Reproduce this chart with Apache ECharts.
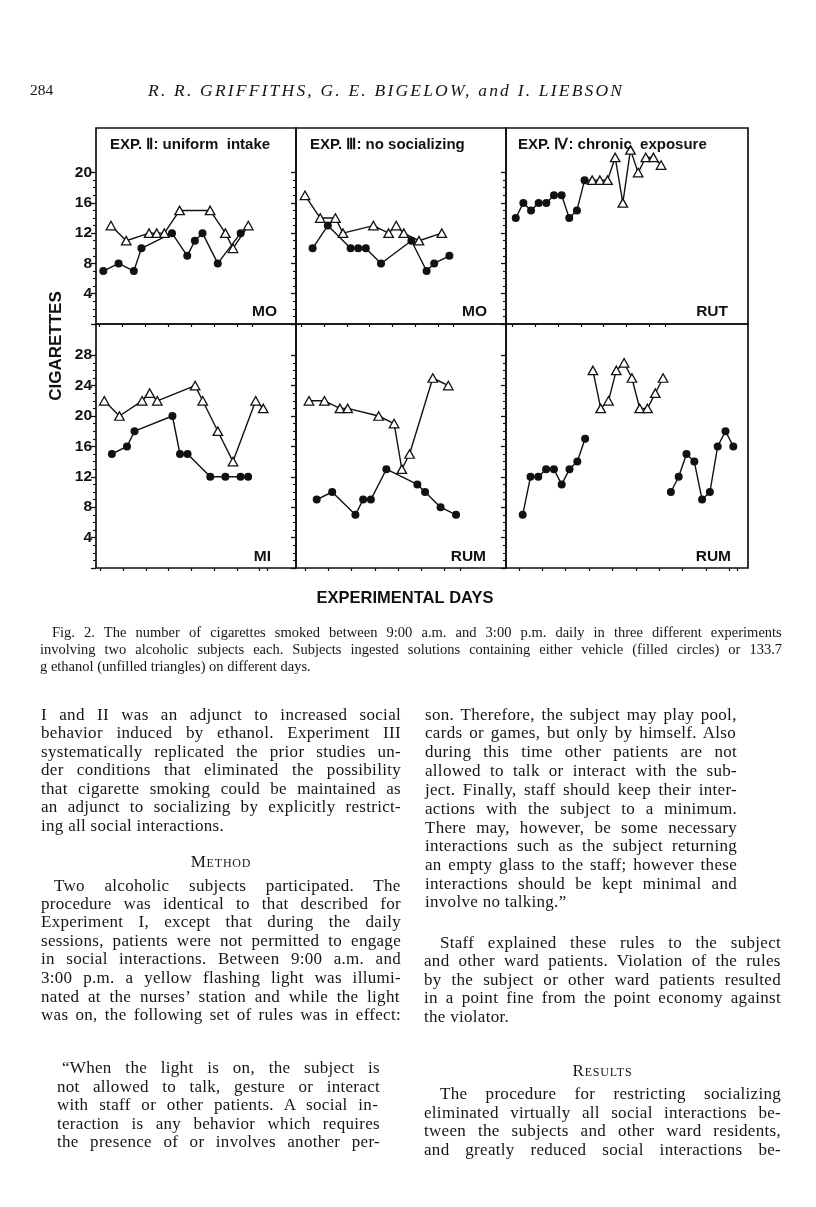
<!DOCTYPE html>
<html><head><meta charset="utf-8">
<script src="https://cdn.jsdelivr.net/npm/echarts@6/dist/echarts.min.js"></script>
<style>
html,body{margin:0;padding:0;background:#fff;}
#page{position:relative;width:816px;height:1207px;overflow:hidden;background:#fff;}
#chart{position:absolute;left:0;top:0;width:816px;height:1207px;}
.t{position:absolute;white-space:pre;font-family:"Liberation Serif","Times New Roman",serif;color:#151515;}
</style></head>
<body><div id="page"><div id="chart"></div></div>
<script>
// ---------------- DATA (cigarettes per day; null = no session of that kind) ----------------
const panelTitles = ['EXP. Ⅱ: uniform  intake', 'EXP. Ⅲ: no socializing', 'EXP. Ⅳ: chronic  exposure'];
const subjectLabels = ['MO', 'MO', 'RUT', 'MI', 'RUM', 'RUM'];
const yTickMaxTop = 20, yTickMaxBottom = 28, yTickStep = 4;

const moExp2Vehicle = [7,null,8,null,7,10,null,null,null,12,null,9,11,12,null,8,null,null,12,null];
const moExp2Ethanol = [null,13,null,11,null,null,12,12,12,null,15,null,null,null,15,null,12,10,null,13];
const moExp3Vehicle = [null,10,null,13,null,null,10,10,10,null,8,null,null,null,11,null,7,8,null,9];
const moExp3Ethanol = [17,null,14,null,14,12,null,null,null,13,null,12,13,12,null,11,null,null,12,null];
const rutExp4Vehicle = [14,16,15,16,16,17,17,14,15,19,null,null,null,null,null,null,null,null,null,null];
const rutExp4Ethanol = [null,null,null,null,null,null,null,null,null,null,19,19,19,22,16,23,20,22,22,21];
const miExp2Vehicle = [null,15,null,16,18,null,null,null,null,20,15,15,null,null,12,null,12,null,12,12,null,null];
const miExp2Ethanol = [22,null,20,null,null,22,23,22,null,null,null,null,24,22,null,18,null,14,null,null,22,21];
const rumExp3Vehicle = [null,9,null,10,null,null,7,9,9,null,13,null,null,null,11,10,null,8,null,7];
const rumExp3Ethanol = [22,null,22,null,21,21,null,null,null,20,null,19,13,15,null,null,25,null,24,null];
const rumExp4Vehicle = [7,12,12,13,13,11,13,14,17,null,null,null,null,null,null,null,null,null,null,10,12,15,14,9,10,16,18,16];
const rumExp4Ethanol = [null,null,null,null,null,null,null,null,null,26,21,22,26,27,25,21,21,23,25,null,null,null,null,null,null,null,null,null];

// ---------------- LAYOUT ----------------
const frameX = [96, 296, 506, 748];
const rowY = [[128, 324], [324, 568]];
const pxPerUnit = [7.57, 7.6];
const panels = [
  {v: moExp2Vehicle,  e: moExp2Ethanol,  row:0, col:0, start:99.5,  dw:7.63, connect:true},
  {v: moExp3Vehicle,  e: moExp3Ethanol,  row:0, col:1, start:301.2, dw:7.6,  connect:true},
  {v: rutExp4Vehicle, e: rutExp4Ethanol, row:0, col:2, start:511.9, dw:7.65, connect:true, joined:true},
  {v: miExp2Vehicle,  e: miExp2Ethanol,  row:1, col:0, start:100.5, dw:7.57, connect:true},
  {v: rumExp3Vehicle, e: rumExp3Ethanol, row:1, col:1, start:305.1, dw:7.74, connect:true},
  {v: rumExp4Vehicle, e: rumExp4Ethanol, row:1, col:2, start:518.8, dw:7.8,  connect:false}
];

const INK = '#111';
const SANS = '"Liberation Sans", Arial, Helvetica, sans-serif';
const circleStyle = {color: INK};
const triStyle = {color: '#fff', borderColor: INK, borderWidth: 1.3};
const CIRCLE_SIZE = 8, TRI_SIZE = [9.5, 8.5];

const grids = [], xAxes = [], yAxes = [], series = [];
panels.forEach((p, i) => {
  const fl = frameX[p.col], fr = frameX[p.col + 1];
  const [ft, fb] = rowY[p.row];
  const tickMax = p.row === 0 ? yTickMaxTop : yTickMaxBottom;
  const n = p.v.length;
  grids.push({left: fl, top: ft, width: fr - fl, height: fb - ft, show: true,
    borderColor: INK, borderWidth: 1.7, backgroundColor: 'transparent'});
  xAxes.push({gridIndex: 2*i, type: 'value', show: false, min: 0, max: 1});
  yAxes.push({gridIndex: 2*i, type: 'value', show: false, min: 0, max: 1});
  const h = tickMax * pxPerUnit[p.row];
  grids.push({left: p.start, top: fb - h, width: n * p.dw, height: h, show: false});
  xAxes.push({gridIndex: 2*i+1, type: 'category', boundaryGap: true,
    data: p.v.map((_, k) => String(k + 1)),
    axisLine: {show: false}, axisLabel: {show: false}, splitLine: {show: false},
    axisTick: {show: true, length: 3, lineStyle: {color: INK, width: 1.2}}});
  yAxes.push({gridIndex: 2*i+1, type: 'value', min: 0, max: tickMax, interval: yTickStep,
    position: 'left', offset: p.start - fl,
    axisLine: {show: false}, splitLine: {show: false},
    axisTick: {show: true, length: 5, lineStyle: {color: INK, width: 1.3}},
    minorTick: {show: true, splitNumber: 4, length: 3, lineStyle: {color: INK, width: 1.1}},
    axisLabel: {show: p.col === 0, margin: 4, color: INK, fontWeight: 'bold', fontSize: 15.5,
      fontFamily: SANS, formatter: v => v === 0 ? '' : String(v)}});
  const base = {type: 'line', xAxisIndex: 2*i+1, yAxisIndex: 2*i+1, showSymbol: true,
    showAllSymbol: true, clip: false, animation: false, silent: true,
    lineStyle: {color: INK, width: 1.4}, emphasis: {disabled: true}};
  if (p.joined) {
    const merged = p.v.map((val, k) => val != null
      ? {value: val, symbol: 'circle', symbolSize: CIRCLE_SIZE, itemStyle: circleStyle}
      : (p.e[k] != null ? {value: p.e[k], symbol: 'triangle', symbolSize: TRI_SIZE, itemStyle: triStyle} : null));
    series.push(Object.assign({}, base, {data: merged, connectNulls: true, z: 3}));
  } else {
    series.push(Object.assign({}, base, {data: p.v, connectNulls: p.connect, symbol: 'circle',
      symbolSize: CIRCLE_SIZE, itemStyle: circleStyle, z: 3}));
    series.push(Object.assign({}, base, {data: p.e, connectNulls: p.connect, symbol: 'triangle',
      symbolSize: TRI_SIZE, itemStyle: triStyle, z: 4}));
  }
});

const txt = (s, x, y, font, align, extra) => Object.assign({type: 'text', x, y, silent: true, z: 10,
  style: {text: s, fill: INK, font, textAlign: align || 'left', textVerticalAlign: 'middle'}}, extra || {});
const graphics = [];
const titleX = [110, 310, 518];
panelTitles.forEach((t, i) => graphics.push(txt(t, titleX[i], 145, 'bold 15px ' + SANS)));
const subjX = [277, 487, 728, 271, 486, 731];
subjectLabels.forEach((s, i) => graphics.push(txt(s, subjX[i], i < 3 ? 312 : 557, 'bold 15.5px ' + SANS, 'right')));
graphics.push(txt('CIGARETTES', 56, 346, 'bold 17px ' + SANS, 'center', {rotation: Math.PI / 2}));
graphics.push(txt('EXPERIMENTAL DAYS', 405, 598, 'bold 16.5px ' + SANS, 'center'));

const chart = echarts.init(document.getElementById('chart'), null, {renderer: 'canvas'});
chart.setOption({animation: false, grid: grids, xAxis: xAxes, yAxis: yAxes, series, graphic: graphics});

// ---------------- PAGE TEXT ----------------
const page = document.getElementById('page');
const mctx = document.createElement('canvas').getContext('2d');
function addLine(s, x, yc, width, size, o) {
  o = o || {};
  const ls = o.ls || 0;
  const d = document.createElement('div');
  d.className = 't';
  const font = (o.italic ? 'italic ' : '') + size + 'px "Liberation Serif"';
  d.style.font = font;
  d.style.lineHeight = (size * 1.2) + 'px';
  d.style.left = x + 'px';
  d.style.top = (yc - size * 0.62) + 'px';
  d.textContent = s;
  mctx.font = font;
  const w = mctx.measureText(s).width;
  if (width && o.letter) {
    d.style.letterSpacing = ((width - w) / (s.length - 1)) + 'px';
  } else {
    if (ls) d.style.letterSpacing = ls + 'px';
    if (width) {
      const nsp = (s.match(/ /g) || []).length;
      if (nsp) d.style.wordSpacing = ((width - w - ls * s.length) / nsp) + 'px';
    }
  }
  page.appendChild(d);
}
function addCentered(s, left, width, yc, size) {
  const d = document.createElement('div');
  d.className = 't';
  d.style.font = size + 'px "Liberation Serif"';
  d.style.fontVariant = 'small-caps';
  d.style.letterSpacing = '0.8px';
  d.style.lineHeight = (size * 1.2) + 'px';
  d.style.left = left + 'px'; d.style.width = width + 'px'; d.style.textAlign = 'center';
  d.style.top = (yc - size * 0.62) + 'px';
  d.textContent = s;
  page.appendChild(d);
}
addLine('284', 30, 91, 0, 15.5);
addLine('R. R. GRIFFITHS, G. E. BIGELOW, and I. LIEBSON', 148, 91, 474, 17.5, {italic: true, letter: true});

const CS = 14.5;
const caption = [
  ['Fig. 2. The number of cigarettes smoked between 9:00 a.m. and 3:00 p.m. daily in three different experiments', 52, 633, 730],
  ['involving two alcoholic subjects each. Subjects ingested solutions containing either vehicle (filled circles) or 133.7', 40, 650, 742],
  ['g ethanol (unfilled triangles) on different days.', 40, 667, 0]
];
caption.forEach(c => addLine(c[0], c[1], c[2], c[3], CS));

const BS = 17, BLS = 0.3;
const L0 = 41, LW = 360, R0 = 424, RW = 357;
const leftCol = [
  ['I and II was an adjunct to increased social', L0, 716, LW],
  ['behavior induced by ethanol. Experiment III', L0, 734, LW],
  ['systematically replicated the prior studies un-', L0, 753, LW],
  ['der conditions that eliminated the possibility', L0, 771, LW],
  ['that cigarette smoking could be maintained as', L0, 790, LW],
  ['an adjunct to socializing by explicitly restrict-', L0, 808, LW],
  ['ing all social interactions.', L0, 827, 0],
  ['Two alcoholic subjects participated. The', L0 + 13, 887, LW - 13],
  ['procedure was identical to that described for', L0, 905, LW],
  ['Experiment I, except that during the daily', L0, 923, LW],
  ['sessions, patients were not permitted to engage', L0, 942, LW],
  ['in social interactions. Between 9:00 a.m. and', L0, 960, LW],
  ['3:00 p.m. a yellow flashing light was illumi-', L0, 979, LW],
  ['nated at the nurses\u2019 station and while the light', L0, 998, LW],
  ['was on, the following set of rules was in effect:', L0, 1016, LW],
  ['\u201CWhen the light is on, the subject is', 62, 1069, 318],
  ['not allowed to talk, gesture or interact', 57, 1088, 323],
  ['with staff or other patients. A social in-', 57, 1106, 323],
  ['teraction is any behavior which requires', 57, 1125, 323],
  ['the presence of or involves another per-', 57, 1143, 323]
];
const rightCol = [
  ['son. Therefore, the subject may play pool,', 425, 716, 312],
  ['cards or games, but only by himself. Also', 425, 734, 312],
  ['during this time other patients are not', 425, 753, 312],
  ['allowed to talk or interact with the sub-', 425, 772, 312],
  ['ject. Finally, staff should keep their inter-', 425, 791, 312],
  ['actions with the subject to a minimum.', 425, 810, 312],
  ['There may, however, be some necessary', 425, 829, 312],
  ['interactions such as the subject returning', 425, 847, 312],
  ['an empty glass to the staff; however these', 425, 866, 312],
  ['interactions should be kept minimal and', 425, 885, 312],
  ['involve no talking.\u201D', 425, 903, 0],
  ['Staff explained these rules to the subject', R0 + 16, 944, RW - 16],
  ['and other ward patients. Violation of the rules', R0, 962, RW],
  ['by the subject or other ward patients resulted', R0, 981, RW],
  ['in a point fine from the point economy against', R0, 999, RW],
  ['the violator.', R0, 1018, 0],
  ['The procedure for restricting socializing', R0 + 16, 1095, RW - 16],
  ['eliminated virtually all social interactions be-', R0, 1114, RW],
  ['tween the subjects and other ward residents,', R0, 1132, RW],
  ['and greatly reduced social interactions be-', R0, 1151, RW]
];
leftCol.concat(rightCol).forEach(c => addLine(c[0], c[1], c[2], c[3], BS, {ls: BLS}));
addCentered('Method', L0, LW, 863, BS);
addCentered('Results', R0, RW, 1072, BS);
</script>
</body></html>
